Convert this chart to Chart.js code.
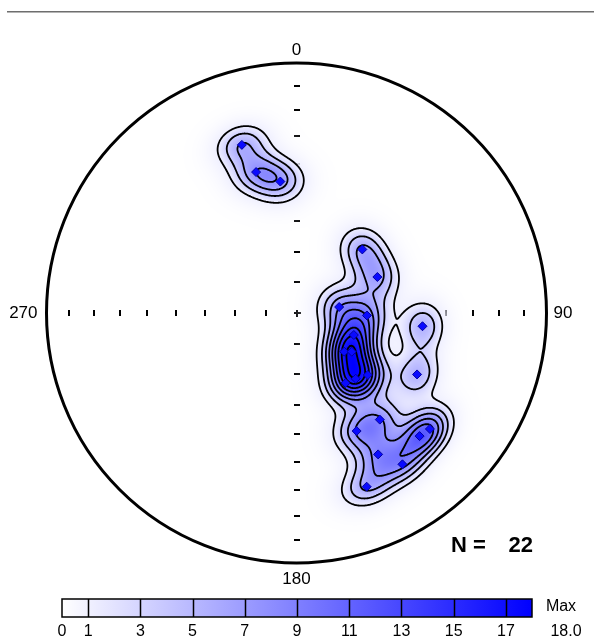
<!DOCTYPE html>
<html><head><meta charset="utf-8">
<script src="https://cdn.jsdelivr.net/npm/chart.js@4.4.1/dist/chart.umd.min.js"></script>
<style>html,body{margin:0;padding:0;background:#fff;overflow:hidden}canvas{display:block}</style>
</head><body><canvas id="c" width="594" height="641"></canvas>
<script>
// ---- data (poles read from the net: trend / plunge, degrees) ----
const trends  = [342, 344, 353,  46,  66,  82,  92,  96, 111, 129, 125, 131, 138, 145, 117, 142, 153, 135, 131, 150, 145, 158];
const plunges = [ 30,  41,  46,  60,  61,  76,  67,  48,  70,  70,  68,  59,  61,  62,  45,  45,  46,  31,  30,  35,  27,  26];
const contourLevels = [1, 3, 5, 7, 9, 11, 13, 15, 17];
const colorbarTicks = [0, 1, 3, 5, 7, 9, 11, 13, 15, 17];
const maxValue = 18.0;
const maxLabel = '18.0';
const tickPlunges = [10, 20, 30, 40, 50, 60, 70, 80];
const azimuthLabels = ['0', '90', '180', '270'];
const sampleCountLabel = ['N =', '22'];

const D = Math.PI / 180;
function project(trend, plunge) {
  const r = Math.SQRT2 * Math.sin((90 - plunge) / 2 * D);
  return { x: r * Math.sin(trend * D), y: r * Math.cos(trend * D) };
}
const points = trends.map((t, i) => project(t, plunges[i]));
const vecs = trends.map((t, i) => {
  const tr = t * D, pl = plunges[i] * D;
  return [Math.cos(pl) * Math.sin(tr), Math.cos(pl) * Math.cos(tr), Math.sin(pl)];
});

const KAPPA = 120, OFFSET = 0.26, FILL_GAMMA = 1.15;
let cache = null;
function getGrid(chart) {
  if (cache) return cache;
  const a = chart.chartArea, xs = chart.scales.x, ys = chart.scales.y;
  const x0 = Math.floor(a.left), y0 = Math.floor(a.top);
  const W = Math.ceil(a.right) - x0, H = Math.ceil(a.bottom) - y0;
  const sums = new Float32Array(W * H);
  const inside = new Uint8Array(W * H);
  let maxSum = 0;
  for (let j = 0; j < H; j++) {
    const ny = ys.getValueForPixel(y0 + j + 0.5);
    for (let i = 0; i < W; i++) {
      const nx = xs.getValueForPixel(x0 + i + 0.5);
      const r2 = nx * nx + ny * ny;
      if (r2 > 1.0001) continue;
      const r = Math.sqrt(Math.min(r2, 1));
      const c = 2 * Math.asin(r / Math.SQRT2);
      const s = Math.sin(c);
      const sx = r > 0 ? s * nx / r : 0, sy = r > 0 ? s * ny / r : 0, sz = Math.cos(c);
      let sum = 0;
      for (const v of vecs) {
        const dot = Math.abs(v[0] * sx + v[1] * sy + v[2] * sz);
        sum += Math.exp(KAPPA * (dot - 1));
      }
      sums[j * W + i] = sum; inside[j * W + i] = 1;
      if (sum > maxSum) maxSum = sum;
    }
  }
  const S = maxValue / (maxSum - OFFSET);
  const sumAtOne = OFFSET + 1 / S;
  const vals = new Float32Array(W * H);
  const off = document.createElement('canvas'); off.width = W; off.height = H;
  const octx = off.getContext('2d');
  const img = octx.createImageData(W, H);
  const colFor = v => Math.round(255 * Math.pow(1 - Math.min(v, maxValue) / maxValue, FILL_GAMMA));
  for (let k = 0; k < W * H; k++) {
    if (!inside[k]) { vals[k] = 0; continue; }
    const v = S * (sums[k] - OFFSET);
    vals[k] = Math.max(0, v);
    let col, alpha;
    if (v >= 1) { col = colFor(v); alpha = 255; }
    else {
      col = colFor(1);
      alpha = Math.round(255 * Math.pow(Math.max(0, sums[k] / sumAtOne), 0.8));
    }
    img.data[k * 4] = col; img.data[k * 4 + 1] = col; img.data[k * 4 + 2] = 255;
    img.data[k * 4 + 3] = alpha;
  }
  octx.putImageData(img, 0, 0);
  cache = { x0, y0, W, H, vals, canvas: off };
  return cache;
}

function drawContours(ctx, g) {
  const { vals, W, H, x0, y0 } = g;
  ctx.save();
  ctx.strokeStyle = '#000'; ctx.lineWidth = 1.8; ctx.lineCap = 'round'; ctx.lineJoin = 'round';
  for (const L of contourLevels) {
    ctx.beginPath();
    const seg = (p, q) => { ctx.moveTo(p[0], p[1]); ctx.lineTo(q[0], q[1]); };
    for (let j = 0; j < H - 1; j++) {
      for (let i = 0; i < W - 1; i++) {
        const a = vals[j * W + i], b = vals[j * W + i + 1], c = vals[(j + 1) * W + i + 1], d = vals[(j + 1) * W + i];
        const idx = (a >= L ? 8 : 0) | (b >= L ? 4 : 0) | (c >= L ? 2 : 0) | (d >= L ? 1 : 0);
        if (idx === 0 || idx === 15) continue;
        const X = x0 + i + 0.5, Y = y0 + j + 0.5;
        const T = [X + (L - a) / (b - a), Y], Rt = [X + 1, Y + (L - b) / (c - b)];
        const B = [X + (L - d) / (c - d), Y + 1], Lf = [X, Y + (L - a) / (d - a)];
        switch (idx) {
          case 1: case 14: seg(Lf, B); break;
          case 2: case 13: seg(B, Rt); break;
          case 3: case 12: seg(Lf, Rt); break;
          case 4: case 11: seg(T, Rt); break;
          case 6: case 9: seg(T, B); break;
          case 7: case 8: seg(Lf, T); break;
          case 5: { const m = (a + b + c + d) / 4; if (m >= L) { seg(Lf, T); seg(B, Rt); } else { seg(T, Rt); seg(Lf, B); } break; }
          case 10: { const m = (a + b + c + d) / 4; if (m >= L) { seg(T, Rt); seg(Lf, B); } else { seg(Lf, T); seg(B, Rt); } break; }
        }
      }
    }
    ctx.stroke();
  }
  ctx.restore();
}

const FONT = '"Liberation Sans", Arial, sans-serif';
const stereoPlugin = {
  id: 'stereo',
  beforeDraw(chart) {
    const c = chart.ctx; c.save(); c.fillStyle = '#fff'; c.fillRect(0, 0, chart.width, chart.height); c.restore();
  },
  beforeDatasetsDraw(chart) {
    const ctx = chart.ctx, xs = chart.scales.x, ys = chart.scales.y;
    const cx = xs.getPixelForValue(0), cy = ys.getPixelForValue(0);
    const R = xs.getPixelForValue(1) - cx;
    ctx.save();
    ctx.fillStyle = '#000';
    tickPlunges.forEach(p => {
      [0, 90, 180, 270].forEach(az => {
        const q = project(az, p);
        const px = xs.getPixelForValue(q.x), py = ys.getPixelForValue(q.y);
        if (az % 180 === 0) ctx.fillRect(Math.round(px) - 3, Math.round(py) - 1, 6, 2);
        else ctx.fillRect(Math.round(px) - 1, Math.round(py) - 3, 2, 6);
      });
    });
    ctx.fillRect(Math.round(cx) - 3, Math.round(cy) - 1, 7, 2);
    ctx.fillRect(Math.round(cx) - 1, Math.round(cy) - 3, 2, 7);
    const g = getGrid(chart);
    ctx.drawImage(g.canvas, g.x0, g.y0);
    drawContours(ctx, g);
    ctx.beginPath(); ctx.arc(cx, cy, R, 0, 2 * Math.PI);
    ctx.lineWidth = 3; ctx.strokeStyle = '#000'; ctx.stroke();
    ctx.restore();
  },
  afterDraw(chart) {
    const ctx = chart.ctx, xs = chart.scales.x, ys = chart.scales.y;
    const cx = xs.getPixelForValue(0), cy = ys.getPixelForValue(0);
    const R = xs.getPixelForValue(1) - cx;
    ctx.save();
    // top separator line
    ctx.fillStyle = '#6e6e6e'; ctx.fillRect(7, 11, 587, 1);
    ctx.fillStyle = '#b4b4b4'; ctx.fillRect(7, 12, 587, 1);
    // azimuth labels
    ctx.fillStyle = '#000'; ctx.font = '17px ' + FONT; ctx.textBaseline = 'middle';
    ctx.textAlign = 'center';
    ctx.fillText(azimuthLabels[0], cx, cy - R - 13);
    ctx.fillText(azimuthLabels[2], cx, cy + R + 16);
    ctx.textAlign = 'left'; ctx.fillText(azimuthLabels[1], cx + R + 7, cy + 0.5);
    ctx.textAlign = 'right'; ctx.fillText(azimuthLabels[3], cx - R - 9, cy + 0.5);
    // N label
    ctx.font = 'bold 22px ' + FONT; ctx.textAlign = 'left';
    ctx.fillText(sampleCountLabel[0], 451, 546);
    ctx.textAlign = 'right';
    ctx.fillText(sampleCountLabel[1], 533, 546);
    // colour bar
    const bl = 62, br = 532, bt = 599, bb = 617;
    const bx = v => bl + (br - bl) * v / maxValue;
    const grad = ctx.createLinearGradient(bl, 0, br, 0);
    grad.addColorStop(0, 'rgb(255,255,255)'); grad.addColorStop(1, 'rgb(0,0,255)');
    ctx.fillStyle = grad; ctx.fillRect(bl, bt, br - bl, bb - bt);
    ctx.strokeStyle = '#000'; ctx.lineWidth = 1.5;
    ctx.strokeRect(bl, bt, br - bl, bb - bt);
    ctx.beginPath();
    contourLevels.forEach(v => { const x = Math.round(bx(v)) + 0.5; ctx.moveTo(x, bt); ctx.lineTo(x, bb); });
    ctx.stroke();
    ctx.fillStyle = '#000'; ctx.font = '16px ' + FONT; ctx.textAlign = 'center'; ctx.textBaseline = 'middle';
    colorbarTicks.forEach(v => ctx.fillText(String(v), bx(v), 632));
    ctx.fillText('Max', 561, 607);
    ctx.fillText(maxLabel, 566, 632);
    ctx.restore();
  }
};

new Chart(document.getElementById('c').getContext('2d'), {
  type: 'scatter',
  data: { datasets: [{ data: points, pointStyle: 'rectRot', pointRadius: 4.5, pointHoverRadius: 4.5,
    backgroundColor: '#0a0aff', borderColor: '#0000a0', borderWidth: 1 }] },
  options: {
    responsive: false, animation: false, events: [], devicePixelRatio: 1,
    layout: { padding: { left: 46.5, right: 47.5, top: 63, bottom: 78 } },
    scales: { x: { type: 'linear', min: -1, max: 1, display: false }, y: { type: 'linear', min: -1, max: 1, display: false } },
    plugins: { legend: { display: false }, tooltip: { enabled: false } }
  },
  plugins: [stereoPlugin]
});
</script></body></html>
